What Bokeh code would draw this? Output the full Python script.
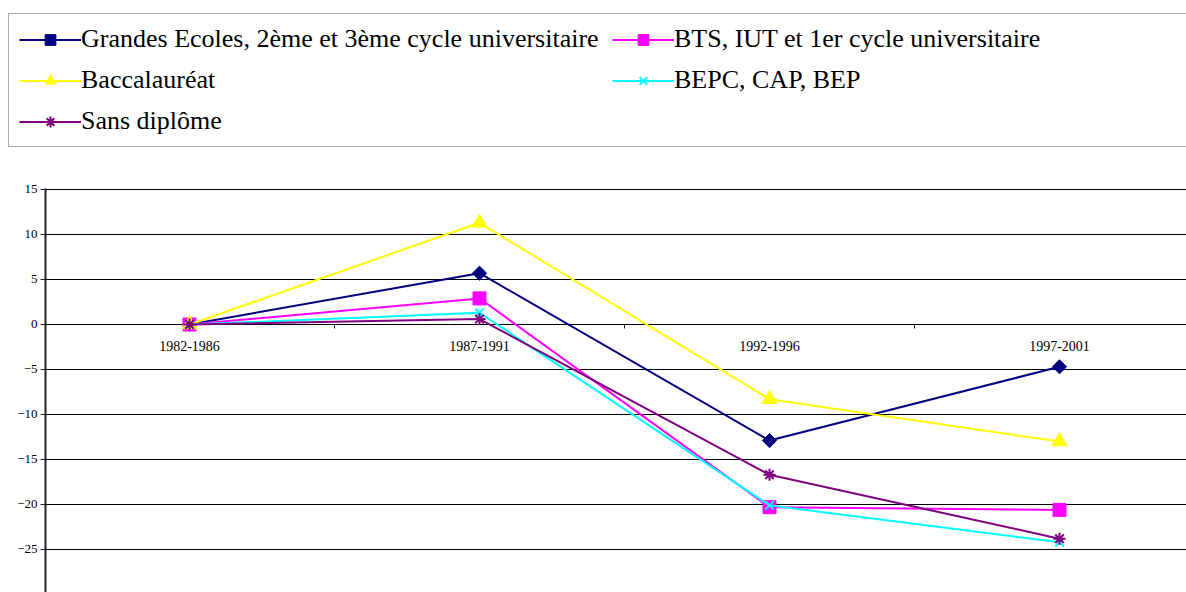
import math
from bokeh.plotting import figure
from bokeh.models import Range1d, FixedTicker, Legend, LegendItem, ColumnDataSource
from bokeh.layouts import column
from bokeh.core.properties import value
from bokeh.embed import file_html
from bokeh.resources import INLINE

periods = ["1982-1986", "1987-1991", "1992-1996", "1997-2001"]
grandes = [0, 5.7, -12.9, -4.7]
bts = [0, 2.9, -20.3, -20.6]
bac = [0, 11.3, -8.3, -13.0]
bepc = [0, 1.3, -20.1, -24.2]
sans = [0, 0.6, -16.7, -23.8]
y_ticks = [-30, -25, -20, -15, -10, -5, 0, 5, 10, 15]

names = ["Grandes Ecoles, 2ème et 3ème cycle universitaire",
         "BTS, IUT et 1er cycle universitaire",
         "Baccalauréat",
         "BEPC, CAP, BEP",
         "Sans diplôme"]
series = [grandes, bts, bac, bepc, sans]
colors = ["#000080", "#FF00FF", "#FFFF00", "#00FFFF", "#800080"]
markers = ["square", "square", "triangle", "x", "asterisk"]
angles = [math.pi / 4, 0, 0, 0, 0]
sizes = [10, 13, 15, 12, 12]
legend_order = [0, 2, 4, 1, 3]  # column-major fill -> rows read Grandes/BTS, Bac/BEPC, Sans

FONT = "Liberation Serif"
W = 1186
TOP_H = 178
MAIN_H = 414

xs = list(range(len(periods)))

# ---- legend host figure (its ranges keep its copies of the series out of view) ----
lg = figure(width=W, height=TOP_H, output_backend="svg", toolbar_location=None,
            x_axis_location=None, y_axis_location=None,
            x_range=Range1d(100, 101), y_range=Range1d(100, 101),
            min_border_left=0, min_border_right=0, min_border_top=0, min_border_bottom=0)
lg.outline_line_color = None
lg.grid.visible = False
if "frame_align" in lg.properties():
    lg.frame_align = False

# ---- main plot ----
p = figure(width=W, height=MAIN_H, output_backend="svg", toolbar_location=None,
           x_axis_location=None,
           x_range=Range1d(-0.4966, 3.4379), y_range=Range1d(-29.78, 15.11),
           min_border_left=45, min_border_right=0, min_border_top=10, min_border_bottom=0)
p.outline_line_color = None
p.xgrid.visible = False
p.ygrid.ticker = FixedTicker(ticks=y_ticks)
p.ygrid.grid_line_color = "black"
p.ygrid.grid_line_width = 1
p.yaxis.ticker = FixedTicker(ticks=y_ticks)
p.yaxis.major_label_text_font = FONT
p.yaxis.major_label_text_font_size = "13px"
p.yaxis.major_label_text_color = "black"
p.yaxis.major_tick_out = 5
p.yaxis.major_tick_in = 0
p.yaxis.minor_tick_line_color = None
p.yaxis.axis_line_width = 2
p.yaxis.axis_line_color = "#222222"
p.yaxis.major_tick_line_color = "#222222"
p.yaxis.major_label_standoff = 3
if "frame_align" in p.properties():
    p.frame_align = False

# category axis tick marks between categories on the zero line
bounds = [i + 0.5 for i in range(len(periods) - 1)]
p.segment(x0=bounds, x1=bounds, y0=[0] * len(bounds), y1=[-0.45] * len(bounds),
          line_color="#222222", line_width=1)

# category labels under the zero line
p.text(x=xs, y=[0] * len(xs), text=periods, text_font=value(FONT),
       text_font_size="14px", text_align="center", text_baseline="top",
       y_offset=17, text_color="black")

items = []
for name, ys, c, m, a, s in zip(names, series, colors, markers, angles, sizes):
    src = ColumnDataSource(dict(x=xs, y=ys))
    lw = 2 if m in ("x", "asterisk") else 1
    p.line("x", "y", source=src, line_color=c, line_width=2)
    p.scatter("x", "y", source=src, marker=m, size=s, angle=a, fill_color=c,
              line_color=c, line_width=lw)
    ln = lg.line("x", "y", source=src, line_color=c, line_width=2)
    sc = lg.scatter("x", "y", source=src, marker=m, size=s, angle=a, fill_color=c,
                    line_color=c, line_width=lw)
    items.append(LegendItem(label=name, renderers=[ln, sc]))

items = [items[i] for i in legend_order]

PAD = 10
legend_h = 2 * PAD + 3 * 30 + 2 * 11
legend = Legend(items=items, ncols=2, location=(8, TOP_H - 15 - legend_h),
                label_text_font=FONT, label_text_font_size="26px",
                label_text_color="black",
                glyph_width=62, glyph_height=27, label_standoff=0,
                label_height=27, label_width=520, spacing=11, padding=PAD, margin=0,
                border_line_color="#555555", border_line_width=1,
                background_fill_color="white", background_fill_alpha=1.0)
lg.add_layout(legend)

layout = column(column(lg, spacing=0), p, spacing=0)
open("out.html", "w").write(file_html(layout, INLINE))
